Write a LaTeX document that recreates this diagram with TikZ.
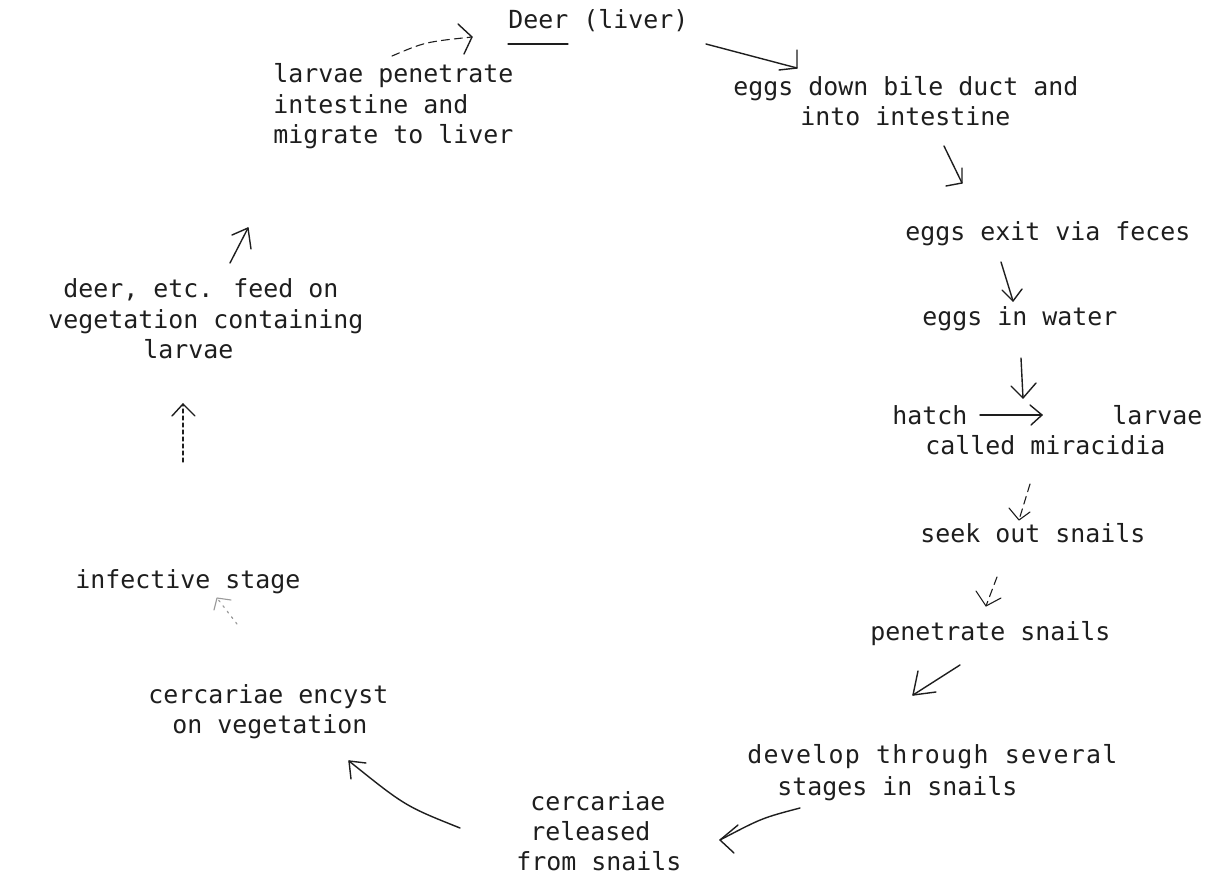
\documentclass[tikz,border=0pt]{standalone}
\usepackage{fontspec}
\newfontfamily\mono{DejaVu Sans Mono}
\definecolor{ink}{HTML}{1E1E1E}
\definecolor{faint}{HTML}{9A9A9A}
\tikzset{
  txt/.style={font=\mono\fontsize{12.46pt}{15pt}\selectfont, text=ink, inner sep=0pt, anchor=base west},
  pen/.style={draw=ink, line width=0.7pt, line cap=round, line join=round},
  dashpen/.style={pen, line width=0.55pt, dash pattern=on 4pt off 2.5pt},
  dotpen/.style={pen, line width=0.55pt, dash pattern=on 2pt off 1.5pt},
  faintpen/.style={draw=faint, line width=0.6pt, line cap=round, dash pattern=on 1pt off 2.5pt},
}
% a hand-drawn arrow: shaft from tail to tip, plus two barbs
\newcommand{\handarrow}[5][pen]{%
  \draw[#1] (#2) -- (#3);
  \draw[pen] (#4) -- (#3) -- (#5);
}
\begin{document}
\begin{tikzpicture}[x=0.5pt,y=-0.5pt]
\useasboundingbox[fill=white] (0,0) rectangle (1207,878);

% ---- stages of the life cycle ----
\node[txt] (deer) at (508,28) {Deer (liver)};
\draw[pen,line width=0.6pt] ([yshift=-8pt]deer.base west) -- ++(30pt,0);

\node[txt] (bile1) at (733,95) {eggs down bile duct and};
\node[txt] (bile2) at (800,125) {into intestine};

\node[txt] (feces) at (905,240) {eggs exit via feces};
\node[txt] (water) at (922,325) {eggs in water};

\node[txt] (hatch) at (892,424) {hatch};
\node[txt] (larv) at (1112,424) {larvae};
\node[txt] (mirac) at (925,454) {called miracidia};

\node[txt] (seek) at (920,542) {seek out snails};
\node[txt] (pensn) at (870,640) {penetrate snails};

\node[txt] (dev1) at (747,763) {\addfontfeature{LetterSpace=5}develop through several};
\node[txt] (dev2) at (777,795) {stages in snails};

\node[txt] (rel1) at (530,810) {cercariae};
\node[txt] (rel2) at (530,840) {released};
\node[txt] (rel3) at (516,870) {from snails};

\node[txt] (enc1) at (148,703) {cercariae encyst};
\node[txt] (enc2) at (172,733) {on vegetation};

\node[txt] (infect) at (75,588) {infective stage};

\node[txt] (feed1) at (63,297) {deer, etc. feed on};
\node[txt] (feed2) at (48,328) {vegetation containing};
\node[txt] (feed3) at (143,358) {larvae};

\node[txt] (mig1) at (273,83) {larvae penetrate};
\node[txt] (mig2) at (273,113) {intestine and};
\node[txt] (mig3) at (273,143) {migrate to liver};

% ---- arrow end points ----
\coordinate (a1t) at (392,56);   \coordinate (a1h) at (472,37);
\coordinate (a1l) at (458,24);   \coordinate (a1r) at (464,54);
\coordinate (a2t) at (706,44);   \coordinate (a2h) at (797,68);
\coordinate (a2l) at (797,50);   \coordinate (a2r) at (779,70);
\coordinate (a3t) at (944,146);  \coordinate (a3h) at (962,183);
\coordinate (a3l) at (962,168);  \coordinate (a3r) at (946,186);
\coordinate (a4t) at (1001,262); \coordinate (a4h) at (1013,301);
\coordinate (a4l) at (1002,290); \coordinate (a4r) at (1022,289);
\coordinate (a5t) at (1021,358); \coordinate (a5h) at (1023,398);
\coordinate (a5l) at (1011,386); \coordinate (a5r) at (1036,383);
\coordinate (a6t) at (980,415);  \coordinate (a6h) at (1042,415);
\coordinate (a6l) at (1030,405); \coordinate (a6r) at (1031,425);
\coordinate (a7t) at (1030,484); \coordinate (a7h) at (1019,520);
\coordinate (a7l) at (1009,508); \coordinate (a7r) at (1030,512);
\coordinate (a8t) at (997,577);  \coordinate (a8h) at (986,606);
\coordinate (a8l) at (976,591);  \coordinate (a8r) at (1001,598);
\coordinate (a9t) at (960,665);  \coordinate (a9h) at (913,695);
\coordinate (a9l) at (918,671);  \coordinate (a9r) at (936,692);
\coordinate (a10t) at (800,808); \coordinate (a10h) at (720,840);
\coordinate (a10l) at (738,825); \coordinate (a10r) at (734,853);
\coordinate (a11t) at (460,828); \coordinate (a11h) at (349,761);
\coordinate (a11l) at (366,763); \coordinate (a11r) at (351,779);
\coordinate (a12t) at (237,624); \coordinate (a12h) at (217,598);
\coordinate (a12l) at (231,600); \coordinate (a12r) at (214,610);
\coordinate (a13t) at (183,462); \coordinate (a13h) at (183,404);
\coordinate (a13l) at (172,416); \coordinate (a13r) at (195,416);
\coordinate (a14t) at (230,263); \coordinate (a14h) at (248,228);
\coordinate (a14l) at (232,235); \coordinate (a14r) at (251,249);

% ---- arrows of the cycle ----
\draw[dashpen] (a1t) .. controls (425,42) .. (a1h);
\draw[pen] (a1l) -- (a1h) -- (a1r);
\handarrow{a2t}{a2h}{a2l}{a2r}
\handarrow{a3t}{a3h}{a3l}{a3r}
\handarrow{a4t}{a4h}{a4l}{a4r}
\handarrow{a5t}{a5h}{a5l}{a5r}
\handarrow{a6t}{a6h}{a6l}{a6r}
\draw[dashpen] (a7t) -- (a7h);
\draw[pen,line width=0.55pt] (a7l) -- (a7h) -- (a7r);
\draw[dashpen] (a8t) -- (a8h);
\draw[pen,line width=0.55pt] (a8l) -- (a8h) -- (a8r);
\handarrow{a9t}{a9h}{a9l}{a9r}
\draw[pen] (a10t) .. controls (762,818) .. (a10h);
\draw[pen] (a10l) -- (a10h) -- (a10r);
\draw[pen] (a11t) .. controls (405,806) .. (a11h);
\draw[pen] (a11l) -- (a11h) -- (a11r);
\draw[faintpen] (a12t) -- (a12h);
\draw[pen,draw=faint,line width=0.55pt] (a12l) -- (a12h) -- (a12r);
\draw[dotpen] (a13t) -- (a13h);
\draw[pen] (a13l) -- (a13h) -- (a13r);
\handarrow{a14t}{a14h}{a14l}{a14r}
\end{tikzpicture}
\end{document}
